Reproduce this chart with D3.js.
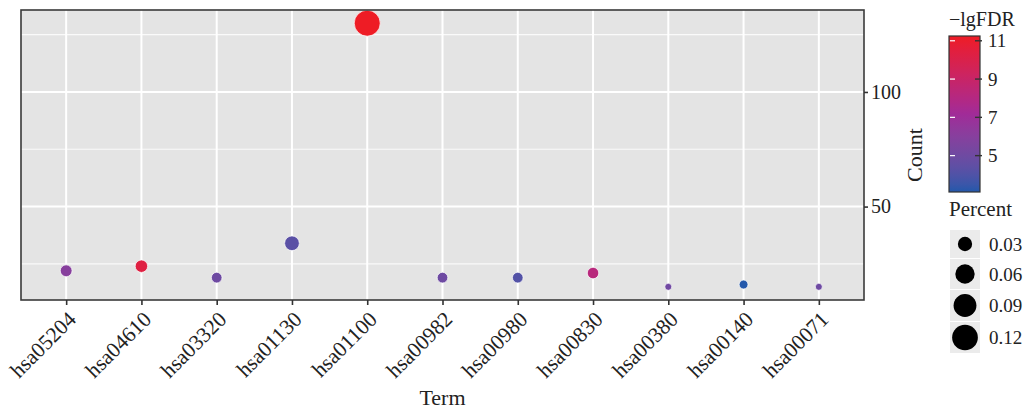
<!DOCTYPE html>
<html>
<head>
<meta charset="utf-8">
<script src="https://cdn.jsdelivr.net/npm/d3@7"></script>
<style>
  html, body { margin: 0; padding: 0; background: #fff; }
  svg, svg text { font-family: "Liberation Serif", "DejaVu Serif", serif; }
</style>
</head>
<body>
<svg id="chart" width="1032" height="410"></svg>
<script>
// KEGG pathway enrichment: term, gene count, -lg(FDR), fraction of genes
const terms   = ["hsa05204", "hsa04610", "hsa03320", "hsa01130", "hsa01100", "hsa00982",
                 "hsa00980", "hsa00830", "hsa00380", "hsa00140", "hsa00071"];
const counts  = [22, 24, 19, 34, 130, 19, 19, 21, 15, 16, 15];
const lgFDR   = [6.0, 10.3, 5.0, 4.3, 11.25, 5.0, 4.1, 8.2, 5.1, 3.1, 5.0];
const percent = [0.021, 0.023, 0.018, 0.032, 0.123, 0.018, 0.018, 0.020, 0.014, 0.015, 0.014];

const countTicks   = [50, 100];
const countMinor   = [25, 75, 125];
const colourTicks  = [5, 7, 9, 11];
const percentBreaks = [0.03, 0.06, 0.09, 0.12];

const data = terms.map((t, i) => ({ term: t, count: counts[i], fdr: lgFDR[i], pct: percent[i] }));

const serif = "'Liberation Serif', 'DejaVu Serif', serif";
const svg = d3.select("#chart");
const panel = { left: 21, right: 864, top: 10, bottom: 300 };

// scales
const x = d3.scalePoint().domain(terms).range([panel.left, panel.right]).padding(0.6);
const cExt = d3.extent(counts);
const cPad = (cExt[1] - cExt[0]) * 0.05;
const y = d3.scaleLinear().domain([cExt[0] - cPad, cExt[1] + cPad]).range([panel.bottom, panel.top]);

const fExt = d3.extent(lgFDR);
const colour = d3.scaleLinear()
  .domain([fExt[0], (fExt[0] + fExt[1]) / 2, fExt[1]])
  .range(["#2358ab", "#a12b98", "#ee1c25"])
  .interpolate(d3.interpolateLab);

const pExt = d3.extent(percent);
const pNorm = d3.scaleLinear().domain(pExt).range([0, 1]);
const diam = d3.scaleSqrt().domain([0, 1]).range([7, 26]);
const radius = p => diam(pNorm(p)) / 2;

// panel background
svg.append("rect")
  .attr("x", panel.left).attr("y", panel.top)
  .attr("width", panel.right - panel.left).attr("height", panel.bottom - panel.top)
  .attr("fill", "#e4e4e4");

// grid lines
const grid = svg.append("g");
grid.selectAll(".ymin").data(countMinor).join("line")
  .attr("x1", panel.left).attr("x2", panel.right)
  .attr("y1", d => y(d)).attr("y2", d => y(d))
  .attr("stroke", "#fafafa").attr("stroke-width", 1.1);
grid.selectAll(".ymaj").data(countTicks).join("line")
  .attr("x1", panel.left).attr("x2", panel.right)
  .attr("y1", d => y(d)).attr("y2", d => y(d))
  .attr("stroke", "#ffffff").attr("stroke-width", 2);
grid.selectAll(".xmaj").data(terms).join("line")
  .attr("x1", d => x(d)).attr("x2", d => x(d))
  .attr("y1", panel.top).attr("y2", panel.bottom)
  .attr("stroke", "#ffffff").attr("stroke-width", 2);

// points
svg.append("g").selectAll("circle").data(data).join("circle")
  .attr("cx", d => x(d.term))
  .attr("cy", d => y(d.count))
  .attr("r", d => radius(d.pct))
  .attr("fill", d => colour(d.fdr))
  .attr("stroke", "#ffffff").attr("stroke-opacity", 0.7).attr("stroke-width", 1);

// panel border
svg.append("rect")
  .attr("x", panel.left).attr("y", panel.top)
  .attr("width", panel.right - panel.left).attr("height", panel.bottom - panel.top)
  .attr("fill", "none").attr("stroke", "#3a3a3a").attr("stroke-width", 1.6);

// right y axis
const yAxis = d3.axisRight(y).tickValues(countTicks).tickSize(4).tickPadding(3);
const gy = svg.append("g").attr("transform", `translate(${panel.right},0)`).call(yAxis)
  .attr("font-family", null).attr("font-size", null);
gy.select(".domain").remove();
gy.selectAll(".tick line").attr("stroke", "#333").attr("stroke-width", 1.6);
gy.selectAll(".tick text")
  .style("font-family", serif).style("font-size", "20px").attr("fill", "#222");

// bottom x axis
const xAxis = d3.axisBottom(x).tickSize(5).tickFormat(d => d);
const gx = svg.append("g").attr("transform", `translate(0,${panel.bottom})`).call(xAxis)
  .attr("font-family", null).attr("font-size", null);
gx.select(".domain").remove();
gx.selectAll(".tick line").attr("stroke", "#333").attr("stroke-width", 1.6);
gx.selectAll(".tick text")
  .style("font-family", serif).style("font-size", "21.5px").attr("fill", "#222")
  .attr("text-anchor", "end")
  .attr("x", 0).attr("y", 10).attr("dy", "0.7em")
  .attr("transform", "rotate(-45, 0, 10)");

// axis titles
svg.append("text")
  .attr("x", (panel.left + panel.right) / 2).attr("y", 405)
  .attr("text-anchor", "middle")
  .style("font-size", "22px").attr("fill", "#222").text("Term");
svg.append("text")
  .attr("transform", `translate(922,${(panel.top + panel.bottom) / 2}) rotate(-90)`)
  .attr("text-anchor", "middle")
  .style("font-size", "22px").attr("fill", "#222").text("Count");

// colour bar legend
const cb = { x: 949, w: 31, top: 0, bottom: 0 };
const cbScale = d3.scaleLinear().domain(fExt).range([192, 36]);
cb.top = cbScale(fExt[1]); cb.bottom = cbScale(fExt[0]);

const defs = svg.append("defs");
const grad = defs.append("linearGradient").attr("id", "fdrGrad")
  .attr("x1", 0).attr("y1", 1).attr("x2", 0).attr("y2", 0);
d3.range(0, 1.0001, 0.05).forEach(t => {
  grad.append("stop").attr("offset", t)
    .attr("stop-color", colour(fExt[0] + t * (fExt[1] - fExt[0])));
});

svg.append("text")
  .attr("x", cb.x).attr("y", 26)
  .style("font-size", "20px").attr("fill", "#222").text("\u2212lgFDR");

svg.append("rect")
  .attr("x", cb.x).attr("y", cb.top).attr("width", cb.w).attr("height", cb.bottom - cb.top)
  .attr("fill", "url(#fdrGrad)").attr("stroke", "#333").attr("stroke-width", 1.2);

const cbTicks = svg.append("g");
cbTicks.selectAll(".wl").data(colourTicks).join("line")
  .attr("x1", cb.x + 1).attr("x2", cb.x + 6)
  .attr("y1", d => cbScale(d)).attr("y2", d => cbScale(d))
  .attr("stroke", "#ffffff").attr("stroke-width", 1.2);
cbTicks.selectAll(".dl").data(colourTicks).join("line")
  .attr("x1", cb.x + cb.w - 5).attr("x2", cb.x + cb.w + 2)
  .attr("y1", d => cbScale(d)).attr("y2", d => cbScale(d))
  .attr("stroke", "#333").attr("stroke-width", 1.4);
cbTicks.selectAll("text").data(colourTicks).join("text")
  .attr("x", 988).attr("y", d => cbScale(d)).attr("dy", "0.35em")
  .style("font-size", "19px").attr("fill", "#222").text(d => d);

// size legend
svg.append("text")
  .attr("x", cb.x).attr("y", 216)
  .style("font-size", "21px").attr("fill", "#222").text("Percent");

const keyH = [28, 30, 31, 31];
let ky = 230;
const keys = percentBreaks.map((p, i) => { const k = { p, y: ky, h: keyH[i] }; ky += keyH[i] + 1; return k; });
const kg = svg.append("g");
kg.selectAll("rect").data(keys).join("rect")
  .attr("x", 950).attr("y", d => d.y).attr("width", 30).attr("height", d => d.h)
  .attr("fill", "#ebebeb");
kg.selectAll("circle").data(keys).join("circle")
  .attr("cx", 965).attr("cy", d => d.y + d.h / 2)
  .attr("r", d => radius(d.p)).attr("fill", "#000");
kg.selectAll("text").data(keys).join("text")
  .attr("x", 989).attr("y", d => d.y + d.h / 2).attr("dy", "0.35em")
  .style("font-size", "19px").attr("fill", "#222").text(d => d3.format(".2f")(d.p));
</script>
</body>
</html>
